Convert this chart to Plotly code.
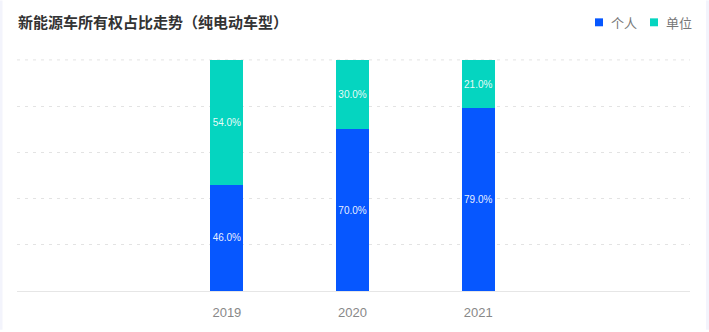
import plotly.graph_objects as go

years = ["2019", "2020", "2021"]
personal = [46.0, 70.0, 79.0]
company = [54.0, 30.0, 21.0]
series_names = ["个人", "单位"]
series_colors = ["#0657FF", "#05D5C0"]
title_text = "新能源车所有权占比走势（纯电动车型）"
y_ticks = [0, 20, 40, 60, 80, 100]

W, H = 709, 332
ML, MR, MT, MB = 17, 19, 59, 39
PW, PH = W - ML - MR, H - MT - MB

def px_x(p):
    return (p - ML) / PW

def px_y(p):
    return 1 - (p - MT) / PH

fig = go.Figure()
for name, vals, col in zip(series_names, [personal, company], series_colors):
    fig.add_trace(go.Bar(
        x=years, y=vals, name=name, marker=dict(color=col, line=dict(width=0)),
        width=0.263,
        text=[f"{v:.1f}%" for v in vals],
        textposition="inside", insidetextanchor="middle", textangle=0,
        textfont=dict(color="rgba(255,255,255,0.92)", size=10, family="Liberation Sans, Arial"),
        constraintext="none",
        showlegend=False,
    ))

shapes = []
# top gridline (at max tick, which plotly culls at the plot edge)
shapes.append(dict(type="line", xref="paper", yref="y", x0=0, x1=1, y0=y_ticks[-1], y1=y_ticks[-1],
                   line=dict(color="#e3e3e3", width=1, dash="3px,5px"), layer="below"))
annotations = [dict(
    text="<b>" + title_text + "</b>", xref="paper", yref="paper", x=px_x(16), y=px_y(21),
    xanchor="left", yanchor="middle", showarrow=False,
    font=dict(size=15, color="#333333", family="Noto Sans CJK SC"),
)]
# legend
leg_sq_x = [595, 650]
leg_tx_x = [609, 664]
for sx, tx, name, col in zip(leg_sq_x, leg_tx_x, series_names, series_colors):
    shapes.append(dict(type="rect", xref="paper", yref="paper",
                       x0=px_x(sx), x1=px_x(sx + 8), y0=px_y(26), y1=px_y(18),
                       fillcolor=col, line=dict(width=0)))
    annotations.append(dict(text=name, xref="paper", yref="paper", x=px_x(tx), y=px_y(22),
                            xanchor="left", yanchor="middle", showarrow=False,
                            font=dict(size=13, color="#777777", family="Noto Sans CJK SC")))
# card border strips
shapes.append(dict(type="rect", xref="paper", yref="paper", x0=px_x(0), x1=px_x(2.5),
                   y0=px_y(H), y1=px_y(0), fillcolor="#f3f4fc", line=dict(width=0), layer="below"))
shapes.append(dict(type="rect", xref="paper", yref="paper", x0=px_x(706), x1=px_x(W),
                   y0=px_y(H), y1=px_y(0), fillcolor="#f3f4fc", line=dict(width=0), layer="below"))

fig.update_layout(
    width=W, height=H,
    margin=dict(l=ML, r=MR, t=MT, b=MB),
    paper_bgcolor="white", plot_bgcolor="white",
    barmode="stack",
    showlegend=False,
    shapes=shapes, annotations=annotations,
    font=dict(family="Noto Sans CJK SC"),
    xaxis=dict(
        type="category", range=[-1.67, 3.685],
        showgrid=False, zeroline=False,
        showline=True, linecolor="#e6e6e6", linewidth=1,
        ticks="outside", ticklen=9, tickcolor="rgba(0,0,0,0)",
        tickfont=dict(size=13, color="#888888", family="Liberation Sans, Arial"),
    ),
    yaxis=dict(
        range=[0, 100.4], tickvals=y_ticks, showticklabels=False,
        showgrid=True, gridcolor="#e3e3e3", gridwidth=1, griddash="3px,5px",
        zeroline=False, showline=False,
    ),
)

fig.write_html("out.html")
